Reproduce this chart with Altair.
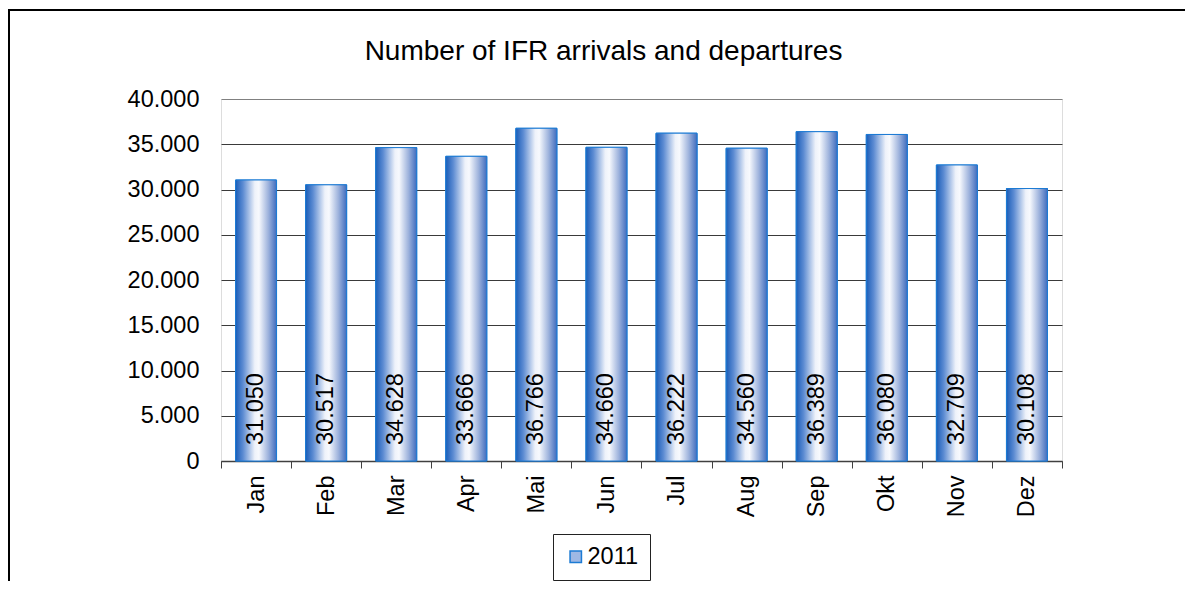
import altair as alt
import pandas as pd

months = ["Jan", "Feb", "Mar", "Apr", "Mai", "Jun", "Jul", "Aug", "Sep", "Okt", "Nov", "Dez"]
flights = [31050, 30517, 34628, 33666, 36766, 34660, 36222, 34560, 36389, 36080, 32709, 30108]
series = ["2011"] * 12
y_ticks = [0, 5000, 10000, 15000, 20000, 25000, 30000, 35000, 40000]

df = pd.DataFrame({"month": months, "flights": flights, "series": series})
df["label"] = [f"{v:,}".replace(",", ".") for v in flights]

FONT = "Liberation Sans"
FS = 23.5

gradient = alt.LinearGradient(
    gradient="linear",
    x1=0, x2=1, y1=0, y2=0,
    stops=[
        alt.GradientStop(color="#1A5DB8", offset=0),
        alt.GradientStop(color="#5C8BD2", offset=0.18),
        alt.GradientStop(color="#EEF2FA", offset=0.47),
        alt.GradientStop(color="#F7F9FD", offset=0.57),
        alt.GradientStop(color="#9DB2DC", offset=0.8),
        alt.GradientStop(color="#3F6CBE", offset=1),
    ],
)

x_enc = alt.X(
    "month:N", sort=months, title=None,
    scale=alt.Scale(paddingInner=0, paddingOuter=0),
    axis=alt.Axis(
        labelAngle=270, labelAlign="right", labelBaseline="middle",
        labelFontSize=FS, labelFont=FONT, labelColor="black",
        labelPadding=7, tickSize=7, tickColor="#404040", tickWidth=1,
        tickBand="extent", domainColor="#404040", domainWidth=1.5,
        grid=False,
    ),
)

y_enc = alt.Y(
    "flights:Q", title=None,
    scale=alt.Scale(domain=[0, 40000], nice=False),
    axis=alt.Axis(
        values=y_ticks,
        labelExpr="replace(format(datum.value, ','), ',', '.')",
        labelFontSize=FS, labelFont=FONT, labelColor="black",
        labelPadding=22, ticks=False, tickSize=0, domain=False,
        grid=True, gridWidth=1,
        gridColor={"condition": {"test": "datum.value >= 40000", "value": "#808080"}, "value": "#3a3a3a"},
    ),
)

base = alt.Chart(df)

border = alt.Chart(alt.Data(values=[{"a": 1}])).mark_rect(
    fill="transparent", stroke="black", strokeWidth=2
).encode(
    x=alt.value(-212), x2=alt.value(1300),
    y=alt.value(-89), y2=alt.value(800),
)

legend_bars = base.mark_bar(size=41, stroke="#1C7BD4", strokeWidth=1).encode(
    x=x_enc, y=y_enc,
    fill=alt.Fill(
        "series:N", title=None,
        scale=alt.Scale(domain=["2011"], range=["#9FB8E4"]),
        legend=alt.Legend(
            title=None, orient="none", legendX=332, legendY=435,
            direction="vertical", padding=11, strokeColor="#222222",
            fillColor="white",
            labelFontSize=FS, labelFont=FONT, labelColor="black",
            symbolType="square", symbolSize=130,
            symbolStrokeColor="#1C7BD4", symbolStrokeWidth=1.5,
            labelOffset=0,
        ),
    ),
)

bars = base.mark_bar(size=41, fill=gradient, stroke="#1C7BD4", strokeWidth=1).encode(
    x=x_enc, y=y_enc,
)

labels = base.mark_text(
    angle=270, align="left", baseline="middle", dx=16,
    fontSize=FS, font=FONT, color="black",
).encode(
    x=x_enc, y=alt.datum(0), text="label:N",
)

chart = alt.layer(border, legend_bars, bars, labels).properties(
    width=841, height=362,
    padding={"left": 213, "top": 91, "right": 123, "bottom": 120},
    autosize=alt.AutoSizeParams(type="none"),
    title=alt.TitleParams(
        "Number of IFR arrivals and departures",
        fontSize=28, font=FONT, fontWeight="normal", color="black",
        anchor="middle", dx=-38, baseline="alphabetic", offset=-79,
    ),
).configure_view(
    stroke="#808080", strokeWidth=2,
).configure(
    font=FONT, background="white",
)

chart.save("out.html", embed_options={"renderer": "svg", "actions": False})
